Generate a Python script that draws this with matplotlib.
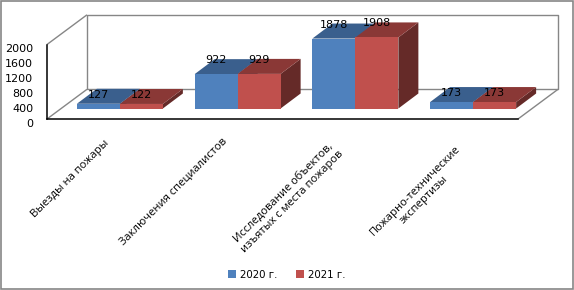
import matplotlib
matplotlib.use("Agg")
import matplotlib.pyplot as plt
from matplotlib.patches import Polygon, Rectangle, Patch

categories = ["Выезды на пожары", "Заключения специалистов",
              "Исследование объектов,\nизъятых с места пожаров",
              "Пожарно-технические\nэкспертизы"]
series_names = ["2020 г.", "2021 г."]
values_2020 = [127, 922, 1878, 173]
values_2021 = [122, 929, 1908, 173]
y_ticks = [0, 400, 800, 1200, 1600, 2000]

# styling / layout
W, H = 574, 290
L, R, T, B = 47, 518, 44.5, 119
front = ["#4F81BD", "#C0504D"]
top = ["#3A5F8D", "#8A3836"]
side = ["#2F4D73", "#652A28"]
label_lift_px = [9, 14, 14, 9]
cat_label_offset_px = [(-36, -60), (-50, -72.5), (-53, -78), (-39, -76.5)]

fig = plt.figure(figsize=(W / 100, H / 100), dpi=100, facecolor="white")
ax = fig.add_axes([L / W, 1 - B / H, (R - L) / W, (B - T) / H])
ax.set_xlim(-0.5, 3.5)
ax.set_ylim(0, 2000)
ax.patch.set_alpha(0)
px = 4 / (R - L)           # data x per pixel
py = 2000 / (B - T)        # data y per pixel

# Walls
wx, wy = 40 * px, 29.7 * py
wall = dict(color="#868686", lw=1, clip_on=False, zorder=1, solid_capstyle="butt")
ax.plot([-0.5 + wx, 3.5 + wx, 3.5 + wx, -0.5 + wx, -0.5 + wx],
        [wy, wy, 2000 + wy, 2000 + wy, wy], **wall)
ax.plot([-0.5, -0.5 + wx], [2000, 2000 + wy], **wall)
ax.plot([-0.5, -0.5 + wx], [0, wy], **wall)
ax.plot([3.5, 3.5 + wx], [0, wy], **wall)

# Bars
bar_w = 43 * px
sx, sy = 14 * px, 10.5 * py
dx, dy = 20 * px, 15 * py
for i in range(len(categories)):
    for s, vals in enumerate((values_2020, values_2021)):
        x0 = i + sx + (s - 1) * bar_w
        x1 = x0 + bar_w
        v = vals[i]
        y0, y1 = sy, sy + v
        ax.add_patch(Polygon([(x1, y0), (x1 + dx, y0 + dy), (x1 + dx, y1 + dy), (x1, y1)],
                             fc=side[s], ec="none", clip_on=False, zorder=2 + s))
        ax.add_patch(Polygon([(x0, y1), (x1, y1), (x1 + dx, y1 + dy), (x0 + dx, y1 + dy)],
                             fc=top[s], ec="none", clip_on=False, zorder=2 + s))
        ax.bar(x0, v, bar_w, bottom=sy, align="edge", color=front[s], clip_on=False, zorder=2 + s)
        ax.annotate(str(v), (x0 + bar_w / 2, y1), xytext=(0, label_lift_px[i] * 0.72),
                    textcoords="offset points", ha="center", va="center",
                    fontsize=8, color="black", zorder=6, annotation_clip=False)

# Axes
for name in ("top", "right"):
    ax.spines[name].set_visible(False)
for name in ("left", "bottom"):
    ax.spines[name].set_color("black")
    ax.spines[name].set_linewidth(1.1)
    ax.spines[name].set_zorder(5)
ax.set_yticks(y_ticks)
ax.set_yticklabels([str(v) for v in y_ticks], va="top", fontsize=8)
ax.tick_params(axis="y", length=0, pad=10)
ax.set_xticks([])

for i, name in enumerate(categories):
    ox, oy = cat_label_offset_px[i]
    ax.annotate(name, (i, 0), xytext=(ox * 0.72, oy * 0.72), textcoords="offset points",
                rotation=45, rotation_mode="anchor", ha="center", va="center",
                multialignment="center", fontsize=8, family="Open Sans", linespacing=1.15,
                annotation_clip=False)

# Legend
handles = [Patch(fc=front[0], ec="none"), Patch(fc=front[1], ec="none")]
fig.legend(handles, series_names, loc="center", bbox_to_anchor=(286.5 / W, 1 - 274.5 / H),
           ncol=2, frameon=False, fontsize=7.4, handlelength=0.78, handleheight=0.78,
           handletextpad=0.35, columnspacing=1.85, borderpad=0, borderaxespad=0)

# Chart frame
fig.add_artist(Rectangle((0.5 / W, 1.5 / H), (W - 2) / W, (H - 2) / H, transform=fig.transFigure,
                         fc="none", ec="#868686", lw=1.2))
fig.savefig("out.png", dpi=100)
